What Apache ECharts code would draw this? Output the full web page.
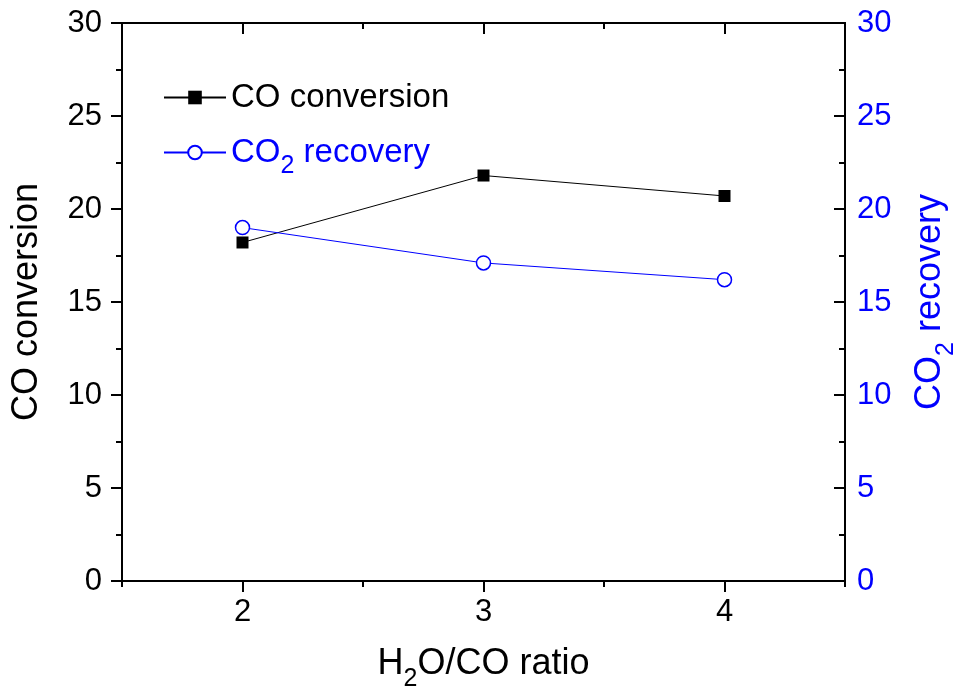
<!DOCTYPE html>
<html>
<head>
<meta charset="utf-8">
<title>CO conversion / CO2 recovery vs H2O/CO ratio</title>
<script src="https://cdn.jsdelivr.net/npm/echarts@6.0.0/dist/echarts.min.js"></script>
<style>
  html, body { margin: 0; padding: 0; background: #fff; }
  #chart { width: 953px; height: 691px; }
</style>
</head>
<body>
<div id="chart"></div>
<script>
// data
var ratios = [2, 3, 4];
var coConversion = [18.2, 21.8, 20.7];
var co2Recovery = [19.0, 17.1, 16.2];

// tick positions on the x axis
var xMajorTicks = [2, 3, 4];
var xMinorTicks = [1.5, 2.5, 3.5, 4.5];

var FONT = '"Liberation Sans", Arial, sans-serif';
var BLUE = '#0000ff';

function pairs(xs, ys) {
    return xs.map(function (x, i) { return [x, ys[i]]; });
}

var chart = echarts.init(document.getElementById('chart'), null, { renderer: 'canvas' });

// x axes: bottom major/minor, top (mirror) major/minor
function xAxisBase(position, ticks, len, inside) {
    return {
        type: 'value',
        position: position,
        min: 1.5,
        max: 4.5,
        splitLine: { show: false },
        axisLine: { show: true, onZero: false, lineStyle: { color: '#000', width: 2 } },
        axisTick: { show: true, inside: inside, length: len, customValues: ticks,
                    lineStyle: { color: '#000', width: 2 } },
        axisLabel: { show: false }
    };
}

var xMain = xAxisBase('bottom', xMajorTicks, 11, false);
xMain.axisLabel = {
    show: true,
    customValues: xMajorTicks,
    margin: 16,
    color: '#000',
    fontSize: 31,
    fontFamily: FONT
};
xMain.name = '{t|H}{s|2}{t|O/CO ratio}';
xMain.nameLocation = 'middle';
xMain.nameGap = 55;
xMain.nameTextStyle = {
    fontFamily: FONT,
    rich: {
        t: { fontSize: 36, lineHeight: 56, color: '#000', fontFamily: FONT },
        s: { fontSize: 25, lineHeight: 25, padding: [31, 0, 0, 0], color: '#000', fontFamily: FONT }
    }
};

function yAxisBase(position, inside, labelColor, margin) {
    return {
        type: 'value',
        position: position,
        min: 0,
        max: 30,
        interval: 5,
        splitLine: { show: false },
        axisLine: { show: true, onZero: false, lineStyle: { color: '#000', width: 2 } },
        axisTick: { show: true, inside: inside, length: 11, lineStyle: { color: '#000', width: 2 } },
        minorTick: { show: true, splitNumber: 2, length: 6, lineStyle: { color: '#000', width: 2 } },
        axisLabel: { color: labelColor, fontSize: 31, fontFamily: FONT, margin: margin }
    };
}

var yLeft = yAxisBase('left', false, '#000', 20);
yLeft.name = 'CO conversion';
yLeft.nameLocation = 'middle';
yLeft.nameGap = 67;
yLeft.nameTextStyle = { color: '#000', fontSize: 36, lineHeight: 56, fontFamily: FONT };

var yRight = yAxisBase('right', true, BLUE, 12);
yRight.name = '{t|CO}{s|2}{t| recovery}';
yRight.nameLocation = 'middle';
yRight.nameGap = 53;
yRight.nameTextStyle = {
    fontFamily: FONT,
    rich: {
        t: { fontSize: 36, lineHeight: 56, color: BLUE, fontFamily: FONT },
        s: { fontSize: 25, lineHeight: 25, padding: [31, 0, 0, 0], color: BLUE, fontFamily: FONT }
    }
};

var option = {
    animation: false,
    backgroundColor: '#fff',
    grid: { left: 122, right: 108, top: 23, bottom: 110, containLabel: false, outerBoundsMode: 'none' },
    legend: {
        orient: 'vertical',
        left: 163,
        top: 81,
        padding: 0,
        itemWidth: 62,
        itemHeight: 17,
        itemGap: 12,
        data: ['CO conversion', 'CO2 recovery'],
        formatter: function (name) {
            if (name === 'CO2 recovery') return '{b|CO}{bs|2}{b| recovery}';
            return '{a|' + name + '}';
        },
        textStyle: {
            fontFamily: FONT,
            rich: {
                a: { fontSize: 33, lineHeight: 52, color: '#000', fontFamily: FONT },
                b: { fontSize: 33, lineHeight: 52, color: BLUE, fontFamily: FONT },
                bs: { fontSize: 25, lineHeight: 24, padding: [28, 0, 0, 0], color: BLUE, fontFamily: FONT }
            }
        }
    },
    xAxis: [
        xMain,
        xAxisBase('bottom', xMinorTicks, 6, false),
        xAxisBase('top', xMajorTicks, 11, true),
        xAxisBase('top', xMinorTicks, 6, true)
    ],
    yAxis: [yLeft, yRight],
    series: [
        {
            name: 'CO conversion',
            type: 'line',
            xAxisIndex: 0,
            yAxisIndex: 0,
            symbol: 'rect',
            symbolSize: 12,
            itemStyle: { color: '#000' },
            lineStyle: { color: '#000', width: 1 },
            data: pairs(ratios, coConversion)
        },
        {
            name: 'CO2 recovery',
            type: 'line',
            xAxisIndex: 0,
            yAxisIndex: 1,
            symbol: 'circle',
            symbolSize: 14,
            itemStyle: { color: '#fff', borderColor: BLUE, borderWidth: 1.5 },
            lineStyle: { color: BLUE, width: 1 },
            data: pairs(ratios, co2Recovery)
        }
    ]
};

chart.setOption(option);
</script>
</body>
</html>
